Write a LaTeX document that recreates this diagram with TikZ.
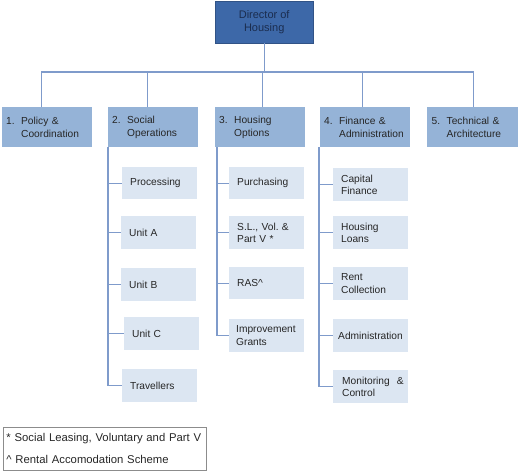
\documentclass[tikz,border=0pt]{standalone}
\usepackage{fontspec}
\setmainfont{Liberation Sans}
\frenchspacing
\definecolor{bossblue}{HTML}{3D68A8}
\definecolor{bosstext}{HTML}{1B2D4F}
\definecolor{deptblue}{HTML}{95B3D7}
\definecolor{unitblue}{HTML}{DCE6F2}
\definecolor{linkblue}{HTML}{7F9BCB}
\tikzset{
  boss/.style={anchor=north west, fill=bossblue, draw=bossblue!80!black, text=bosstext,
    minimum width=98pt, minimum height=42pt, align=center, inner sep=0pt,
    font=\fontsize{11}{13}\selectfont},
  dept/.style={anchor=north west, fill=deptblue, text=black!85,
    minimum width=90pt, minimum height=40pt, inner xsep=4pt, text width=82pt,
    align=left, font=\fontsize{10.2}{12.5}\selectfont},
  unit/.style={anchor=north west, fill=unitblue, text=black!85,
    minimum width=75pt, minimum height=33pt, inner xsep=8pt, text width=59pt,
    align=left, font=\fontsize{10.2}{12.5}\selectfont},
  link/.style={draw=linkblue, line width=1.2pt}
}
\newcommand{\deptlab}[3]{\makebox[15pt][l]{#1}#2\\\hspace*{15pt}#3}
\begin{document}
\begin{tikzpicture}[x=1pt, y=-1pt]
    \useasboundingbox (0,0) rectangle (520,472);

    % top
    \node[boss] (dir) at (215,1) {Director of\\Housing};
    \coordinate (bus) at (0,72);

    % departments
    \node[dept, minimum width=89pt] (d1) at (2,107)   {\deptlab{1.}{Policy \&}{Coordination}};
    \node[dept] (d2) at (108,107) {\deptlab{2.}{Social}{Operations}};
    \node[dept] (d3) at (215,107) {\deptlab{3.}{Housing}{Options}};
    \node[dept] (d4) at (320,107) {\deptlab{4.}{Finance \&}{Administration}};
    \node[dept, minimum width=91pt] (d5) at (427,107) {\deptlab{5.}{Technical \&}{Architecture}};

    \draw[link] (dir.south) -- (dir.south |- bus);
    \draw[link] ([xshift=-6pt]d1.north |- bus) -- ([xshift=1pt]d5.north |- bus);
    \draw[link] ([xshift=-6pt]d1.north) -- ([xshift=-6pt]d1.north |- bus);
    \draw[link] ([xshift=-6pt]d2.north) -- ([xshift=-6pt]d2.north |- bus);
    \draw[link] ([xshift=2pt]d3.north) -- ([xshift=2pt]d3.north |- bus);
    \draw[link] ([xshift=-3pt]d4.north) -- ([xshift=-3pt]d4.north |- bus);
    \draw[link] ([xshift=1pt]d5.north) -- ([xshift=1pt]d5.north |- bus);

    % social operations
    \node[unit, minimum height=32pt] (proc) at (122,167) {Processing};
    \node[unit] (unita) at (121,216) {Unit A};
    \node[unit] (unitb) at (121,268) {Unit B};
    \node[unit] (unitc) at (124,317) {Unit C};
    \node[unit] (trav)  at (122,369) {Travellers};

    % housing options
    \node[unit, minimum height=32pt] (purch) at (229,167) {Purchasing};
    \node[unit] (slvol) at (229,216) {S.L., Vol. \&\\Part V *};
    \node[unit, minimum height=32pt] (ras) at (229,267) {RAS\textasciicircum};
    \node[unit, inner xsep=7pt, text width=61pt] (grants) at (229,319) {Improvement\\Grants};

    % finance and administration
    \node[unit] (capfin) at (333,168) {Capital\\Finance};
    \node[unit] (loans)  at (333,216) {Housing\\Loans};
    \node[unit] (rent)   at (333,267) {Rent\\Collection};
    \node[unit, inner xsep=5pt, text width=65pt] (admin) at (333,319) {Administration};
    \node[unit, inner xsep=3pt, text width=69pt] (monit) at (333,370) {\hspace*{6pt}Monitoring\hspace{7pt}\&\\\hspace*{6pt}Control};

    \foreach \u in {proc,unita,unitb,unitc,trav}
        \draw[link] (d2.south west) |- (\u.west);
    \foreach \u in {purch,slvol,ras,grants}
        \draw[link] ([xshift=2pt]d3.south west) |- (\u.west);
    \foreach \u in {capfin,loans,rent,admin,monit}
        \draw[link] ([xshift=-1pt]d4.south west) |- (\u.west);

    % legend
    \node[anchor=north west, draw=black!45, line width=0.8pt, minimum width=203pt,
        minimum height=43pt, inner xsep=3pt, text width=197pt, align=left,
        font=\fontsize{11.3}{22}\selectfont, text=black!85] (legend) at (3,427)
        {* Social Leasing, Voluntary and Part V\\\textasciicircum\ Rental Accomodation Scheme};

\end{tikzpicture}
\end{document}
